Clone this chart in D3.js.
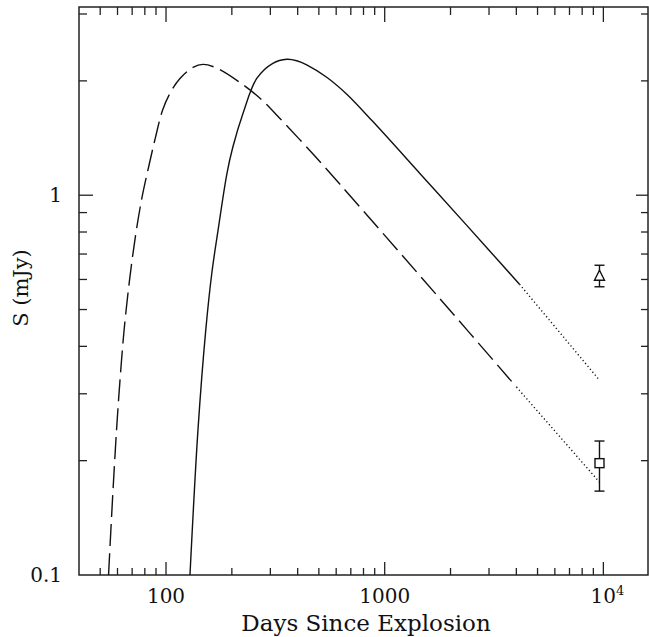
<!DOCTYPE html>
<html><head><meta charset="utf-8">
<script src="https://cdn.jsdelivr.net/npm/d3@7"></script>
<style>body{margin:0;background:#fff}svg{display:block}</style>
</head><body>
<svg id="c" width="649" height="637"></svg>
<script>
// Solid model curve (days, mJy)
const solidDays = [128.7,140,152,162,173,190,202,225,260,308,357,396,440,543,671,881,1445,2368,4134];
const solidFlux = [0.1,0.241,0.442,0.624,0.809,1.142,1.337,1.643,2.03,2.225,2.28,2.26,2.205,2.045,1.845,1.565,1.143,0.834,0.583];
const solidExtDays = [4134,9590];
const solidExtFlux = [0.583,0.326];
// Dashed model curve
const dashDays = [54.6,56.9,59.4,61.6,64.3,68.1,72.6,77.7,83.6,89.5,96.4,104.3,115.8,132.8,147.6,171,218,269,331,469,623,1783,4006];
const dashFlux = [0.1,0.1575,0.241,0.326,0.441,0.5975,0.785,0.988,1.199,1.42,1.674,1.856,2.03,2.17,2.21,2.16,1.98,1.80,1.595,1.285,1.07,0.535,0.3125];
const dashExtDays = [4006,9590];
const dashExtFlux = [0.3125,0.1757];
// Observations
const obsDays = [9600,9600];
const obsFlux = [0.612,0.197];
const obsLow = [0.574,0.1663];
const obsHigh = [0.654,0.2253];
const obsSymbol = ["triangle","square"];
// Axes
const xDomain = [40,16000];
const yDomain = [0.1,3.13];
const xLabels = [[100,"100"],[1000,"1000"]];
const yLabels = [[0.1,"0.1"],[1,"1"]];

const svg = d3.select("#c");
const L=79, R=648, T=7, B=575;
const x = d3.scaleLog().domain(xDomain).range([L,R]);
const y = d3.scaleLog().domain(yDomain).range([B,T]);
const ink = "#222";
const font = "DejaVu Serif, serif";

// ticks
const xMinor = [], yMinor = [];
[10,100,1000,10000].forEach(d=>{for(let k=2;k<=9;k++){const v=d*k; if(v>xDomain[0]&&v<xDomain[1]) xMinor.push(v);}});
[0.1,1].forEach(d=>{for(let k=2;k<=9;k++){const v=d*k; if(v>yDomain[0]&&v<yDomain[1]) yMinor.push(v);}});
const xMajor=[100,1000,10000], yMajor=[1];

const g = svg.append("g").attr("stroke",ink).attr("stroke-width",1.3).attr("fill","none");
xMajor.forEach(v=>{g.append("line").attr("x1",x(v)).attr("x2",x(v)).attr("y1",B).attr("y2",B-13);
  g.append("line").attr("x1",x(v)).attr("x2",x(v)).attr("y1",T).attr("y2",T+15);});
xMinor.forEach(v=>{g.append("line").attr("x1",x(v)).attr("x2",x(v)).attr("y1",B).attr("y2",B-7);
  g.append("line").attr("x1",x(v)).attr("x2",x(v)).attr("y1",T).attr("y2",T+8);});
yMajor.forEach(v=>{g.append("line").attr("x1",L).attr("x2",L+14).attr("y1",y(v)).attr("y2",y(v));
  g.append("line").attr("x1",R).attr("x2",R-12).attr("y1",y(v)).attr("y2",y(v));});
yMinor.forEach(v=>{g.append("line").attr("x1",L).attr("x2",L+8).attr("y1",y(v)).attr("y2",y(v));
  g.append("line").attr("x1",R).attr("x2",R-7).attr("y1",y(v)).attr("y2",y(v));});
svg.append("rect").attr("x",L).attr("y",T).attr("width",R-L).attr("height",B-T)
  .attr("fill","none").attr("stroke",ink).attr("stroke-width",1.5);

// labels
const tl = svg.append("g").attr("font-family",font).attr("font-size",20).attr("fill","#111");
xLabels.forEach(([v,t])=>tl.append("text").attr("x",x(v)).attr("y",B+28).attr("text-anchor","middle").text(t));
const t4 = tl.append("text").attr("x",x(10000)+4).attr("y",B+28).attr("text-anchor","middle");
t4.append("tspan").text("10");
t4.append("tspan").attr("font-size",13).attr("dy",-8).text("4");
yLabels.forEach(([v,t])=>tl.append("text").attr("x",L-17).attr("y",y(v)+7).attr("text-anchor","end").text(t));
tl.append("text").attr("x",366).attr("y",631).attr("text-anchor","middle").attr("font-size",23).text("Days Since Explosion");
tl.append("text").attr("transform","translate(28,288) rotate(-90)").attr("text-anchor","middle").attr("font-size",21).text("S (mJy)");

// curves
const line = d3.line().x(d=>x(d[0])).y(d=>y(d[1])).curve(d3.curveCatmullRom.alpha(0.5));
const zip=(a,b)=>a.map((v,i)=>[v,b[i]]);
const cg = svg.append("g").attr("fill","none").attr("stroke","#111").attr("stroke-width",1.4);
cg.append("path").attr("d",line(zip(solidDays,solidFlux)));
cg.append("path").attr("d",line(zip(solidExtDays,solidExtFlux))).attr("stroke-dasharray","1.2,2.6");
cg.append("path").attr("d",line(zip(dashDays,dashFlux))).attr("stroke-dasharray","22,7");
cg.append("path").attr("d",line(zip(dashExtDays,dashExtFlux))).attr("stroke-dasharray","1.2,2.6");

// observations
const og = svg.append("g").attr("fill","none").attr("stroke","#111").attr("stroke-width",1.4);
obsDays.forEach((d,i)=>{
  const cx=x(d), cy=y(obsFlux[i]);
  og.append("line").attr("x1",cx).attr("x2",cx).attr("y1",y(obsLow[i])).attr("y2",y(obsHigh[i]));
  [obsLow[i],obsHigh[i]].forEach(v=>og.append("line").attr("x1",cx-5).attr("x2",cx+5).attr("y1",y(v)).attr("y2",y(v)));
  if(obsSymbol[i]==="triangle"){
    og.append("path").attr("d",`M${cx},${cy-6}L${cx+5},${cy+4}L${cx-5},${cy+4}Z`).attr("fill","#fff");
  } else {
    og.append("rect").attr("x",cx-4.5).attr("y",cy-4.5).attr("width",9).attr("height",9).attr("fill","#fff");
  }
});
</script>
</body></html>
